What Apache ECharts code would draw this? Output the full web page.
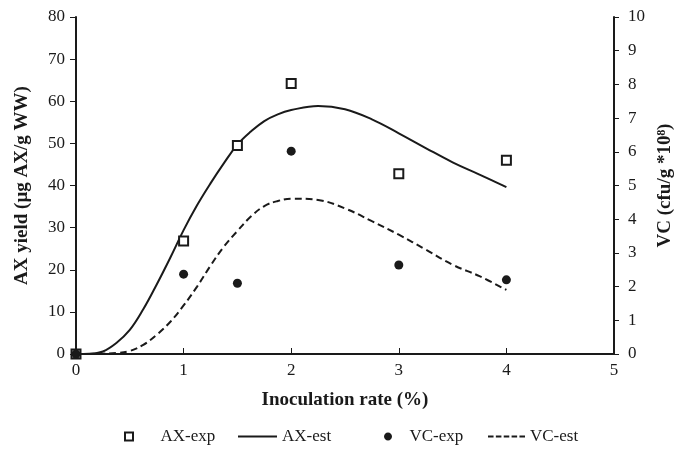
<!DOCTYPE html>
<html>
<head>
    <meta charset="utf-8" />
    <title>AX yield / VC</title>
    <script type="text/javascript" src="https://cdn.jsdelivr.net/npm/echarts@6/dist/echarts.min.js"></script>
    <style>
        html, body { margin: 0; height: 100%; background: #fff; }
    </style>
</head>
<body>
    <div id="main" style="width: 686px;height: 457px;"></div>
    <script type="text/javascript">
        // measured points
        var expX = [0, 1, 1.5, 2, 3, 4];
        var axExp = [0, 26.8, 49.5, 64.2, 42.8, 46];
        var vcExp = [0, 2.37, 2.1, 6.02, 2.64, 2.2];

        // model curves
        var estX = [0, 0.125, 0.25, 0.375, 0.5, 0.625, 0.75, 0.875, 1, 1.125, 1.25, 1.375, 1.5, 1.625, 1.75, 1.875, 2, 2.25, 2.5, 2.75, 3, 3.25, 3.5, 3.75, 4];
        var axEst = [0, 0.05, 0.6, 2.6, 5.7, 10.6, 16.5, 22.8, 29.4, 35.3, 40.5, 45.3, 49.7, 52.8, 55.3, 56.9, 57.9, 58.9, 58.1, 55.7, 52.4, 48.9, 45.5, 42.6, 39.6];
        var vcEst = [0, 0.002, 0.01, 0.03, 0.09, 0.27, 0.57, 0.95, 1.44, 2.0, 2.62, 3.19, 3.65, 4.08, 4.39, 4.54, 4.61, 4.57, 4.32, 3.94, 3.54, 3.1, 2.65, 2.31, 1.9];

        function pairs(xs, ys) {
            return xs.map(function (x, i) { return [x, ys[i]]; });
        }

        var serif = 'Liberation Serif';
        var ink = '#1a1a1a';
        var nameStyle = { fontFamily: serif, fontSize: 19, fontWeight: 'bold', color: ink };

        function tickLabel(margin) {
            return { fontFamily: serif, fontSize: 17, color: ink, margin: margin };
        }

        var square = 'path://M0,0H10V10H0Z';
        var solid = 'path://M0,0H40V2H0Z';
        var dot = 'path://M5,0C7.8,0,10,2.2,10,5C10,7.8,7.8,10,5,10C2.2,10,0,7.8,0,5C0,2.2,2.2,0,5,0Z';
        var dashes = 'path://M0,0H6V2H0Z M8.5,0H14.5V2H8.5Z M17,0H23V2H17Z M25.5,0H31.5V2H25.5Z M34,0H40V2H34Z';

        // one legend per entry so the uneven spacing of the original can be kept
        function legendItem(name, icon, left, width, textPad) {
            return {
                bottom: 12, left: left, padding: 0,
                itemWidth: width, itemHeight: 8,
                textStyle: { fontFamily: serif, fontSize: 17, color: ink, padding: [0, 0, 0, textPad] },
                data: [{ name: name, icon: icon }]
            };
        }

        var option = {
            animation: false,
            grid: { left: 76, right: 72, top: 17, bottom: 103 },
            legend: [
                legendItem('AX-exp', square, 124, 25, 14),
                legendItem('AX-est', solid, 238, 39, 0),
                legendItem('VC-exp', dot, 384, 21, 6),
                legendItem('VC-est', dashes, 488, 37, 0)
            ],
            xAxis: {
                type: 'value', min: 0, max: 5, interval: 1,
                name: 'Inoculation rate (%)', nameLocation: 'middle', nameGap: 37,
                nameTextStyle: nameStyle,
                axisLine: { lineStyle: { color: ink, width: 2 } },
                axisTick: { inside: true, length: 6, lineStyle: { color: ink } },
                axisLabel: tickLabel(8),
                splitLine: { show: false }
            },
            yAxis: [{
                type: 'value', min: 0, max: 80, interval: 10,
                name: 'AX yield (µg AX/g WW)', nameLocation: 'middle', nameGap: 44,
                nameTextStyle: nameStyle,
                axisLine: { show: true, lineStyle: { color: ink, width: 2 } },
                axisTick: { show: true, length: 6, lineStyle: { color: ink } },
                axisLabel: tickLabel(11),
                splitLine: { show: false }
            }, {
                type: 'value', min: 0, max: 10, interval: 1, position: 'right',
                name: 'VC (cfu/g *10⁸)', nameLocation: 'middle', nameGap: 38,
                nameRotate: 90,
                nameTextStyle: nameStyle,
                axisLine: { show: true, lineStyle: { color: ink, width: 2 } },
                axisTick: { show: true, length: 5, lineStyle: { color: ink } },
                axisLabel: tickLabel(14),
                splitLine: { show: false }
            }],
            series: [{
                name: 'AX-exp', type: 'scatter', yAxisIndex: 0,
                symbol: 'rect', symbolSize: 9,
                itemStyle: { color: '#fff', borderColor: ink, borderWidth: 2, opacity: 1 },
                data: pairs(expX, axExp), z: 5
            }, {
                name: 'AX-est', type: 'line', yAxisIndex: 0, smooth: 0.4,
                symbol: 'none',
                lineStyle: { color: ink, width: 2 },
                itemStyle: { color: ink },
                data: pairs(estX, axEst)
            }, {
                name: 'VC-exp', type: 'scatter', yAxisIndex: 1,
                symbol: 'circle', symbolSize: 9,
                itemStyle: { color: ink, opacity: 1 },
                data: pairs(expX, vcExp), z: 6
            }, {
                name: 'VC-est', type: 'line', yAxisIndex: 1, smooth: 0.4,
                symbol: 'none',
                lineStyle: { color: ink, width: 2, type: [7, 4] },
                itemStyle: { color: ink },
                data: pairs(estX, vcEst)
            }]
        };

        var myChart = echarts.init(document.getElementById('main'));
        myChart.setOption(option);
    </script>
</body>
</html>
